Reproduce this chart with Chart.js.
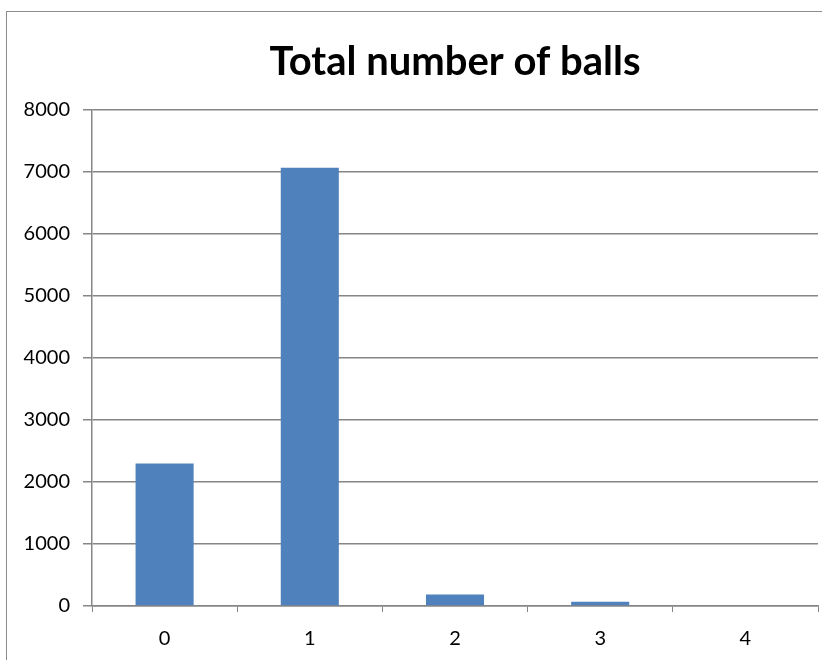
<!DOCTYPE html>
<html lang="en">
<head>
    <meta charset="UTF-8">
    <title>Total number of balls</title>
    <script src="https://cdn.jsdelivr.net/npm/chart.js@4/dist/chart.umd.min.js"></script>
    <style>
        html, body { margin: 0; padding: 0; background: #fff; overflow: hidden; }
        #wrap { position: relative; width: 822px; height: 660px; }
        /* frame around the chart object, runs off the right and bottom edges */
        #frame {
            position: absolute; left: 6px; top: 11px; width: 900px; height: 700px;
            border-top: 1px solid #8c8c8c; border-left: 1px solid #8c8c8c;
        }
        canvas { position: absolute; left: 0; top: 0; }
    </style>
</head>
<body>
    <div id="wrap">
        <div id="frame"></div>
        <canvas id="balls-chart" width="822" height="660"></canvas>
    </div>

    <script>
        var categories = ['0', '1', '2', '3', '4'];
        var ballCounts = [2300, 7070, 185, 70, 0];
        var yTicks = [0, 1000, 2000, 3000, 4000, 5000, 6000, 7000, 8000];

        var axisGrey = '#868686';
        var fontFamily = 'Lato, "Open Sans", sans-serif';

        var ctx = document.getElementById('balls-chart').getContext('2d');
        var chart = new Chart(ctx, {
            type: 'bar',
            data: {
                labels: categories,
                datasets: [{
                    label: 'Total number of balls',
                    data: ballCounts,
                    backgroundColor: '#4f81bd',
                    borderWidth: 0,
                    categoryPercentage: 1.0,
                    barPercentage: 0.4
                }]
            },
            options: {
                responsive: false,
                animation: false,
                layout: { padding: { left: 0, right: 4, top: 0, bottom: 0 } },
                plugins: {
                    legend: { display: false },
                    tooltip: { enabled: false },
                    title: {
                        display: true,
                        fullSize: false, // center over the plot area
                        text: 'Total number of balls',
                        color: '#000',
                        font: { family: fontFamily, size: 40, weight: 'bold' },
                        padding: { top: 38, bottom: 24 }
                    }
                },
                scales: {
                    x: {
                        grid: {
                            display: true,
                            drawOnChartArea: false,
                            drawTicks: true,
                            tickLength: 6,
                            color: axisGrey,
                            offset: true
                        },
                        border: { display: true, color: axisGrey, width: 1.5 },
                        ticks: {
                            color: '#000',
                            padding: 15,
                            font: { family: fontFamily, size: 20 }
                        },
                        afterFit: function (scale) { scale.height = 54; }
                    },
                    y: {
                        min: 0,
                        max: 8000,
                        afterBuildTicks: function (scale) {
                            scale.ticks = yTicks.map(function (v) { return { value: v }; });
                        },
                        grid: {
                            color: axisGrey,
                            lineWidth: 1.5,
                            drawTicks: true,
                            tickLength: 9
                        },
                        border: { display: true, color: axisGrey, width: 1.5 },
                        ticks: {
                            color: '#000',
                            padding: 13,
                            font: { family: fontFamily, size: 20 },
                            callback: function (value) { return String(value); }
                        },
                        afterFit: function (scale) { scale.width = 92; }
                    }
                }
            }
        });
    </script>
</body>
</html>
